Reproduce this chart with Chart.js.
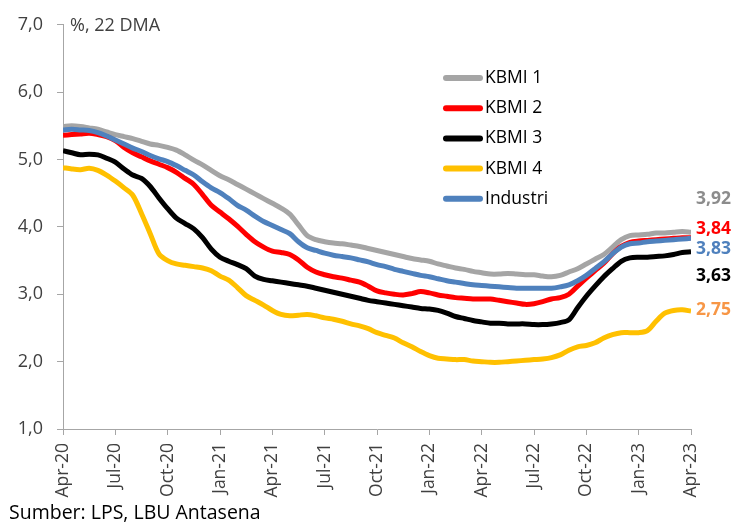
<!DOCTYPE html>
<html>
<head>
<meta charset="utf-8">
<script src="https://cdn.jsdelivr.net/npm/chart.js@4/dist/chart.umd.min.js"></script>
<style>
    html, body { margin: 0; padding: 0; background: #ffffff; }
    #wrap { width: 743px; height: 526px; position: relative; }
</style>
</head>
<body>
<div id="wrap"><canvas id="sbChart" width="743" height="526"></canvas></div>
<script>
// bulan sejak Apr-20 (tiap setengah bulan)
const bulan = [0,0.5,1,1.5,2,2.5,3,3.5,4,4.5,5,5.5,6,6.5,7,7.5,8,8.5,9,9.5,10,10.5,11,11.5,12,12.5,13,13.5,14,14.5,15,15.5,16,16.5,17,17.5,18,18.5,19,19.5,20,20.5,21,21.5,22,22.5,23,23.5,24,24.5,25,25.5,26,26.5,27,27.5,28,28.5,29,29.5,30,30.5,31,31.5,32,32.5,33,33.5,34,34.5,35,35.5,36];

// label sumbu X (tiap 3 bulan)
const labelBulan = ["Apr-20","Jul-20","Oct-20","Jan-21","Apr-21","Jul-21","Oct-21","Jan-22","Apr-22","Jul-22","Oct-22","Jan-23","Apr-23"];

const kbmi1 = [5.49,5.50,5.49,5.47,5.45,5.41,5.37,5.34,5.31,5.27,5.23,5.21,5.18,5.14,5.07,4.99,4.92,4.84,4.76,4.70,4.63,4.56,4.49,4.42,4.35,4.28,4.19,4.03,3.87,3.81,3.78,3.76,3.75,3.73,3.71,3.68,3.65,3.62,3.59,3.56,3.53,3.51,3.49,3.45,3.42,3.39,3.37,3.34,3.32,3.30,3.30,3.31,3.30,3.29,3.29,3.27,3.26,3.28,3.33,3.38,3.45,3.52,3.59,3.70,3.81,3.87,3.88,3.89,3.91,3.91,3.92,3.93,3.92];
const kbmi2 = [5.36,5.37,5.38,5.39,5.37,5.34,5.28,5.18,5.10,5.04,4.98,4.93,4.88,4.81,4.72,4.63,4.48,4.32,4.22,4.12,4.01,3.89,3.78,3.70,3.64,3.62,3.59,3.51,3.40,3.33,3.29,3.26,3.24,3.21,3.18,3.12,3.05,3.02,3.00,2.99,3.01,3.04,3.02,2.99,2.97,2.95,2.94,2.93,2.93,2.93,2.91,2.89,2.87,2.85,2.86,2.89,2.93,2.95,3.00,3.12,3.24,3.35,3.46,3.60,3.71,3.77,3.79,3.80,3.81,3.82,3.83,3.84,3.84];
const kbmi3 = [5.13,5.10,5.07,5.08,5.07,5.02,4.96,4.86,4.77,4.72,4.60,4.43,4.27,4.13,4.05,3.97,3.84,3.67,3.55,3.49,3.44,3.38,3.27,3.22,3.20,3.18,3.16,3.14,3.12,3.09,3.06,3.03,3.00,2.97,2.94,2.91,2.89,2.87,2.85,2.83,2.81,2.79,2.78,2.76,2.72,2.67,2.64,2.61,2.59,2.57,2.57,2.56,2.56,2.56,2.55,2.55,2.56,2.58,2.62,2.80,2.97,3.12,3.26,3.38,3.49,3.54,3.55,3.55,3.56,3.57,3.59,3.62,3.63];
const kbmi4 = [4.88,4.86,4.85,4.87,4.84,4.77,4.68,4.58,4.47,4.20,3.90,3.60,3.50,3.45,3.43,3.41,3.39,3.35,3.27,3.21,3.10,2.98,2.91,2.84,2.76,2.70,2.68,2.69,2.70,2.68,2.65,2.63,2.60,2.56,2.53,2.49,2.43,2.39,2.35,2.28,2.22,2.15,2.09,2.05,2.04,2.03,2.03,2.01,2.00,1.99,1.99,2.00,2.01,2.02,2.03,2.04,2.06,2.10,2.17,2.22,2.24,2.28,2.35,2.40,2.43,2.43,2.43,2.46,2.60,2.72,2.76,2.77,2.75];
const industri = [5.44,5.45,5.44,5.43,5.40,5.35,5.29,5.23,5.17,5.12,5.06,5.01,4.97,4.91,4.84,4.77,4.67,4.58,4.51,4.42,4.32,4.25,4.16,4.08,4.02,3.96,3.90,3.78,3.69,3.65,3.61,3.58,3.56,3.54,3.51,3.48,3.44,3.41,3.37,3.34,3.31,3.28,3.26,3.23,3.20,3.18,3.16,3.14,3.13,3.12,3.11,3.10,3.09,3.09,3.09,3.09,3.09,3.11,3.14,3.20,3.28,3.38,3.48,3.60,3.70,3.75,3.76,3.78,3.79,3.80,3.81,3.82,3.83];

// nilai akhir yang ditulis di kanan
const labelAkhir = ["3,92","3,84","3,63","2,75","3,83"];

const FONT = "'Open Sans', 'Noto Sans', sans-serif";
const warnaAxis = "#a6a6a6";
const warnaTeks = "#404040";

function toPoints(arr) {
    return arr.map((v, i) => ({ x: bulan[i], y: v }));
}

const seri = [
    { label: "KBMI 1", data: kbmi1, color: "#a5a5a5", order: 4, teks: "#8c8c8c", ty: 199 },
    { label: "KBMI 2", data: kbmi2, color: "#ff0000", order: 3, teks: "#ff0000", ty: 229 },
    { label: "KBMI 3", data: kbmi3, color: "#000000", order: 2, teks: "#000000", ty: 276 },
    { label: "KBMI 4", data: kbmi4, color: "#ffc000", order: 1, teks: "#f79646", ty: 310 },
    { label: "Industri", data: industri, color: "#4f81bd", order: 0, teks: "#4f81bd", ty: 249 }
];

// legend + teks tambahan
const teksPlugin = {
    id: "teksPlugin",
    afterDraw(chart) {
        const ctx = chart.ctx;
        ctx.save();

        // judul kecil
        ctx.fillStyle = warnaTeks;
        ctx.font = "18px " + FONT;
        ctx.textBaseline = "middle";
        ctx.textAlign = "left";
        ctx.fillText("%, 22 DMA", 70, 26);

        // sumber
        ctx.font = "19.5px " + FONT;
        ctx.fillStyle = "#000000";
        ctx.fillText("Sumber: LPS, LBU Antasena", 9, 513);

        // legend
        seri.forEach((s, i) => {
            const y = 78 + i * 30.2;
            ctx.strokeStyle = s.color;
            ctx.lineWidth = 6;
            ctx.lineCap = "round";
            ctx.beginPath();
            ctx.moveTo(446, y);
            ctx.lineTo(480, y);
            ctx.stroke();
            ctx.fillStyle = "#000000";
            ctx.font = "17.5px " + FONT;
            ctx.fillText(s.label, 485, y);
        });

        // nilai akhir
        ctx.font = "bold 17.5px " + FONT;
        seri.forEach((s, i) => {
            ctx.fillStyle = s.teks;
            ctx.fillText(labelAkhir[i], 696, s.ty);
        });

        ctx.restore();
    }
};

const ctx = document.getElementById("sbChart").getContext("2d");

new Chart(ctx, {
    type: "line",
    data: {
        datasets: seri.map(s => ({
            label: s.label,
            data: toPoints(s.data),
            borderColor: s.color,
            backgroundColor: s.color,
            borderWidth: 5,
            pointRadius: 0,
            tension: 0.3,
            order: s.order
        }))
    },
    options: {
        responsive: false,
        animation: false,
        layout: {
            padding: { left: 0, right: 52, top: 20, bottom: 0 }
        },
        plugins: {
            legend: { display: false },
            tooltip: { enabled: false }
        },
        scales: {
            x: {
                type: "linear",
                min: 0,
                max: 36,
                afterFit: (scale) => { scale.height = 97; },
                afterBuildTicks: (scale) => {
                    scale.ticks = labelBulan.map((l, i) => ({ value: i * 3 }));
                },
                ticks: {
                    minRotation: 90,
                    maxRotation: 90,
                    padding: 8,
                    color: warnaTeks,
                    font: { family: FONT, size: 17.5 },
                    callback: (v) => labelBulan[Math.round(v / 3)]
                },
                grid: {
                    drawOnChartArea: false,
                    drawTicks: true,
                    tickLength: 6,
                    color: warnaAxis
                },
                border: { color: warnaAxis, width: 1 }
            },
            y: {
                min: 1,
                max: 7,
                afterFit: (scale) => { scale.width = 63; },
                ticks: {
                    stepSize: 1,
                    padding: 14,
                    color: warnaTeks,
                    font: { family: FONT, size: 18 },
                    callback: (v) => v.toFixed(1).replace(".", ",")
                },
                grid: {
                    drawOnChartArea: false,
                    drawTicks: true,
                    tickLength: 6,
                    color: warnaAxis
                },
                border: { color: warnaAxis, width: 1 }
            }
        }
    },
    plugins: [teksPlugin]
});
</script>
</body>
</html>
